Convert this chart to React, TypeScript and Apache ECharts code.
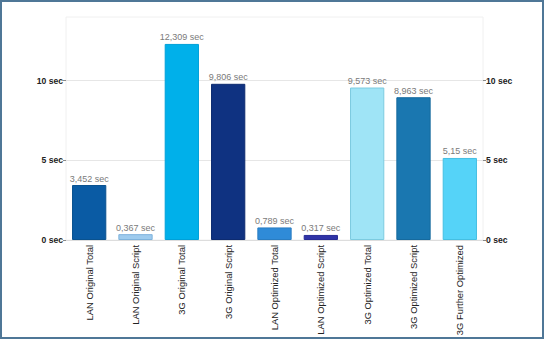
import React, { useEffect, useRef } from "react";
import * as echarts from "echarts";

const categories = [
  "LAN Original Total",
  "LAN Original Script",
  "3G Original Total",
  "3G Original Script",
  "LAN Optimized Total",
  "LAN Optimized Script",
  "3G Optimized Total",
  "3G Optimized Script",
  "3G Further Optimized",
];
const values = [3.452, 0.367, 12.309, 9.806, 0.789, 0.317, 9.573, 8.963, 5.15];
const valueLabels = ["3,452 sec", "0,367 sec", "12,309 sec", "9,806 sec", "0,789 sec", "0,317 sec", "9,573 sec", "8,963 sec", "5,15 sec"];
const colors = ["#0a5ba4", "#9ecbee", "#00b0ea", "#0f3281", "#2f8bd8", "#2f33a7", "#9fe4f6", "#1a77b0", "#55d3f8"];
const borders = ["#0a528f", "#7fb3dc", "#00a0d8", "#0d2b70", "#2a7dc2", "#282c95", "#7ccbe0", "#166a9e", "#45bfe2"];
const yTicks = [0, 5, 10];

export default function App() {
  const ref = useRef<HTMLDivElement>(null);
  useEffect(() => {
    const chart = echarts.init(ref.current!, null, { renderer: "svg" });
    const yAxisCommon = {
      type: "value",
      min: 0,
      max: 14,
      interval: 5,
      axisLine: { show: false },
      axisTick: { show: true, length: 3, lineStyle: { color: "#888" }, customValues: yTicks },
      axisLabel: {
        customValues: yTicks,
        formatter: (v: number) => v + " sec",
        fontFamily: "Liberation Sans, Arial, sans-serif",
        fontSize: 8.6,
        fontWeight: "bold",
        color: "#222",
        margin: 3,
      },
      splitLine: { show: true, lineStyle: { color: "#e6e6e6" } },
    };
    chart.setOption({
      animation: false,
      grid: {
        left: 66,
        right: 61,
        top: 17,
        bottom: 99,
        containLabel: false,
        outerBoundsMode: "none",
        show: true,
        borderColor: "#f0f0f0",
        borderWidth: 1,
      },
      xAxis: {
        type: "category",
        data: categories,
        axisLine: { show: true, lineStyle: { color: "#ddd" } },
        axisTick: { show: false },
        axisLabel: {
          rotate: 90,
          interval: 0,
          fontFamily: "Liberation Sans, Arial, sans-serif",
          fontSize: 9.4,
          color: "#222",
          margin: 5,
        },
      },
      yAxis: [
        { ...yAxisCommon, position: "left" },
        { ...yAxisCommon, position: "right", splitLine: { show: false } },
      ],
      series: [
        {
          type: "bar",
          barWidth: "74%",
          data: values.map((v, i) => ({
            value: v,
            itemStyle: { color: colors[i], borderColor: borders[i], borderWidth: 1 },
            label: { formatter: valueLabels[i] },
          })),
          label: {
            show: true,
            position: "top",
            distance: 2,
            fontFamily: "Liberation Sans, Arial, sans-serif",
            fontSize: 9,
            color: "#7a7a7a",
          },
        },
      ],
    });
    return () => chart.dispose();
  }, []);
  return (
    <div
      style={{
        position: "fixed",
        left: 0,
        top: 0,
        width: 544,
        height: 339,
        boxSizing: "border-box",
        border: "2px solid #4f7797",
        background: "#fff",
      }}
    >
      <div ref={ref} style={{ position: "absolute", left: -2, top: -2, width: 544, height: 339 }} />
    </div>
  );
}
